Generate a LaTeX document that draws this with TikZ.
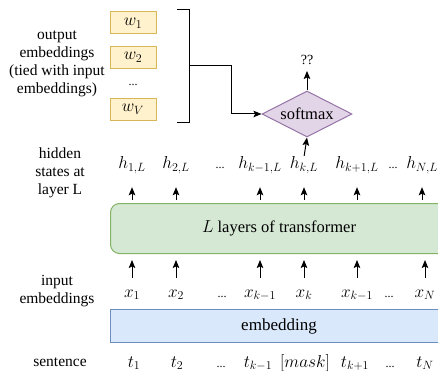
\documentclass[tikz,border=0pt]{standalone}
\usepackage{fontspec}
\setmainfont{Liberation Serif}
\usetikzlibrary{shapes.geometric,arrows.meta}
\definecolor{yelF}{HTML}{FFF2CC}
\definecolor{yelS}{HTML}{D6B656}
\definecolor{grnF}{HTML}{D5E8D4}
\definecolor{grnS}{HTML}{82B366}
\definecolor{bluF}{HTML}{DAE8FC}
\definecolor{bluS}{HTML}{6C8EBF}
\definecolor{purF}{HTML}{E1D5E7}
\definecolor{purS}{HTML}{9673A6}
\tikzset{
  lbl/.style={align=center, font=\fontsize{15.5}{18}\selectfont, inner sep=0pt},
  mlbl/.style={anchor=base, inner sep=0pt, font=\fontsize{17.5}{20}\selectfont, text height=12pt, text depth=5pt},
  xlbl/.style={anchor=base, inner sep=0pt, font=\fontsize{17.5}{20}\selectfont, text height=8pt, text depth=4pt},
  dots/.style={anchor=base, inner sep=0pt, font=\fontsize{12}{14}\selectfont},
  wbox/.style={draw=yelS, fill=yelF, line width=1pt, minimum width=46pt, minimum height=22pt, inner sep=0pt, font=\fontsize{17}{19}\selectfont},
  arr/.style={-{Stealth[length=8pt,width=6.5pt,inset=1.5pt]}, line width=1pt},
  wire/.style={line width=1pt},
}
\begin{document}
\begin{tikzpicture}[x=1pt,y=-1pt]
\useasboundingbox (0,0) rectangle (438,371);
\clip (0,0) rectangle (438,371);

% left labels
\node[lbl] (lout) at (57,64) {output\\embeddings\\(tied with input\\embeddings)};
\node[lbl] (lhid) at (60,173) {hidden\\states at\\layer L};
\node[lbl] (linp) at (57,291) {input\\embeddings};
\node[lbl] (lsen) at (60,362) {sentence};

% output embeddings
\node[wbox] (w1) at (133,23) {$w_1$};
\node[wbox] (w2) at (133,57.5) {$w_2$};
\node[dots] (wd) at (133,86) {...};
\node[wbox] (wV) at (133,109.5) {$w_V$};

% bracket
\coordinate (bt) at (177,10);
\coordinate (bb) at (177,123);
\coordinate (bm) at (189,66);
\draw[wire] (bt) -- (189,10) -- (189,123) -- (bb);

% softmax
\node[diamond, draw=purS, fill=purF, line width=1pt, minimum width=90pt, minimum height=46pt, inner sep=0pt, aspect=2, font=\fontsize{16.5}{19}\selectfont] (sm) at (307,114) {softmax};
\node[inner sep=0pt, font=\fontsize{14}{16}\selectfont] (qq) at (307,60) {??};
\draw[arr] (bm) -- (231,66) |- (sm.west);
\draw[arr, shorten >=6pt] (sm.north) -- (qq.south);

% transformer box
\node[draw=grnS, fill=grnF, line width=1pt, rounded corners=9pt, minimum width=340pt, minimum height=50pt, anchor=north west, inner sep=0pt] (tf) at (110,203) {};
\node[inner sep=0pt, font=\fontsize{16.5}{20}\selectfont] (tfl) at (279,228) {$L$ layers of transformer};

% embedding box
\node[draw=bluS, fill=bluF, line width=1pt, minimum width=340pt, minimum height=33pt, anchor=north west, inner sep=0pt] (eb) at (110,309) {};
\node[inner sep=0pt, font=\fontsize{17}{20}\selectfont] (ebl) at (279,326) {embedding};

% hidden states
\node[mlbl] (h1) at (132,169) {$h_{1,L}$};
\node[mlbl] (h2) at (176,169) {$h_{2,L}$};
\node[dots] (hd1) at (220,169) {...};
\node[mlbl] (hk1) at (260,169) {$h_{k-1,L}$};
\node[mlbl] (hk) at (304,169) {$h_{k,L}$};
\node[mlbl] (hk2) at (357,169) {$h_{k+1,L}$};
\node[dots] (hd2) at (393,169) {...};
\node[mlbl] (hN) at (422,169) {$h_{N,L}$};
\foreach \n in {h1,h2,hk1,hk2,hN}{
  \draw[arr, shorten <=3pt, shorten >=13pt] (tf.north -| \n) -- (\n.south);
}
\draw[arr, shorten <=3pt, shorten >=13pt] (tf.north -| hk) -- (hk.south);
\draw[arr, shorten <=1pt] (hk.north) -- (sm.south);

% input embeddings
\node[xlbl] (x1) at (132,297) {$x_1$};
\node[xlbl] (x2) at (176,297) {$x_2$};
\node[dots] (xd1) at (222,297) {...};
\node[xlbl] (xk1) at (260,297) {$x_{k-1}$};
\node[xlbl] (xk) at (304,297) {$x_k$};
\node[xlbl] (xk2) at (357,297) {$x_{k-1}$};
\node[dots] (xd2) at (389,297) {...};
\node[xlbl] (xN) at (425,297) {$x_N$};
\foreach \n in {x1,x2,xk1,xk,xk2,xN}{
  \draw[arr, shorten <=11pt, shorten >=6pt] (\n.north) -- (tf.south -| \n);
}

% sentence
\node[xlbl] (t1) at (134,367) {$t_1$};
\node[xlbl] (t2) at (177,367) {$t_2$};
\node[dots] (td1) at (221,367) {...};
\node[xlbl] (tk1) at (258,367) {$t_{k-1}$};
\node[xlbl] (tm) at (305,367) {$[mask]$};
\node[xlbl] (tk2) at (355,367) {$t_{k+1}$};
\node[dots] (td2) at (390,367) {...};
\node[xlbl] (tN) at (425,367) {$t_N$};
\end{tikzpicture}
\end{document}
